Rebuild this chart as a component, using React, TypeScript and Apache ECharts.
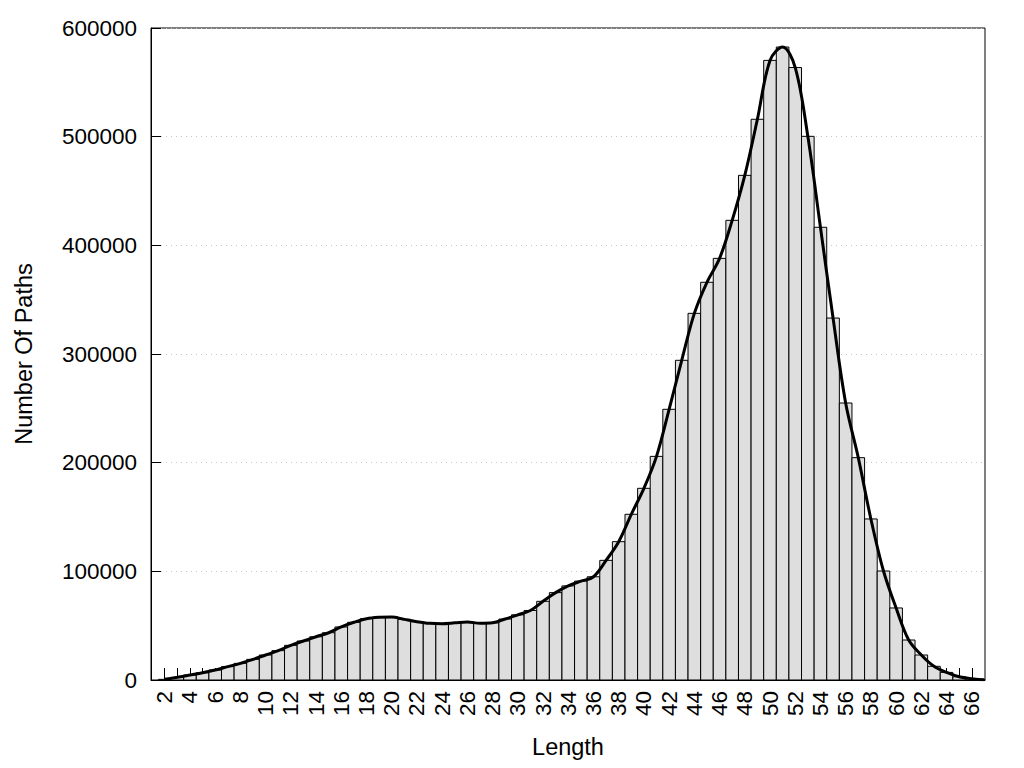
import React, { useEffect, useRef } from "react";
import * as echarts from "echarts";

const lengths = [2, 3, 4, 5, 6, 7, 8, 9, 10, 11, 12, 13, 14, 15, 16, 17, 18, 19, 20, 21, 22, 23, 24, 25, 26, 27, 28, 29, 30, 31, 32, 33, 34, 35, 36, 37, 38, 39, 40, 41, 42, 43, 44, 45, 46, 47, 48, 49, 50, 51, 52, 53, 54, 55, 56, 57, 58, 59, 60, 61, 62, 63, 64, 65, 66, 67];
const pathCounts = [
  600, 2500, 4600, 6700, 9200, 12300, 15300, 19000, 23000, 27000,
  31900, 35900, 39800, 43500, 48800, 53100, 56400, 57700, 58000, 55800,
  53700, 52200, 51800, 52600, 53400, 52200, 52600, 56100, 60000, 64000,
  72400, 80400, 86600, 91000, 95000, 110100, 127300, 152500, 176400, 205800,
  249100, 294200, 337400, 366000, 388000, 423000, 464400, 516000, 570200, 582500,
  563600, 500300, 416600, 333100, 254900, 204600, 148200, 100300, 66300, 36800,
  23000, 12600, 7000, 3000, 1200, 200
];
const xLabelValues = [2, 4, 6, 8, 10, 12, 14, 16, 18, 20, 22, 24, 26, 28, 30, 32, 34, 36, 38, 40, 42, 44, 46, 48, 50, 52, 54, 56, 58, 60, 62, 64, 66];
const xTickValues = lengths.slice(0, 65);
const xName = "Length";
const yName = "Number Of Paths";

export default function App() {
  const ref = useRef<HTMLDivElement>(null);
  useEffect(() => {
    if (!ref.current) return;
    const chart = echarts.init(ref.current, null, { renderer: "svg" });
    const data = lengths.map((x, i) => [x, pathCounts[i]]);
    const font = "'Liberation Sans', Arial, sans-serif";
    chart.setOption({
      animation: false,
      backgroundColor: "#fff",
      textStyle: { fontFamily: font },
      grid: {
        left: 151, right: 39, top: 28, bottom: 88,
        show: true, borderColor: "#000", borderWidth: 1, backgroundColor: "transparent",
      },
      xAxis: {
        type: "value",
        min: 0.91,
        max: 67.05,
        name: xName,
        nameLocation: "middle",
        nameGap: 55,
        nameTextStyle: { fontSize: 23.5, color: "#000", fontFamily: font },
        axisLine: { show: true, lineStyle: { color: "#000", width: 1 } },
        axisTick: { show: true, inside: true, length: 12, customValues: xTickValues, lineStyle: { color: "#000" } },
        axisLabel: {
          customValues: xLabelValues,
          rotate: 90,
          fontSize: 22.5,
          color: "#000",
          margin: 11,
          fontFamily: font,
        },
        splitLine: { show: false },
      },
      yAxis: {
        type: "value",
        min: 0,
        max: 600000,
        interval: 100000,
        name: yName,
        nameLocation: "middle",
        nameGap: 115,
        nameRotate: 90,
        nameTextStyle: { fontSize: 23.5, color: "#000", fontFamily: font },
        axisLine: { show: true, lineStyle: { color: "#000", width: 1 } },
        axisTick: { show: true, inside: true, length: 10, lineStyle: { color: "#000" } },
        axisLabel: {
          fontSize: 22.5, color: "#000", margin: 14, fontFamily: font,
          formatter: (v: number) => String(v),
        },
        splitLine: { show: true, lineStyle: { color: "#c8c8c8", type: [1, 4], width: 1 } },
      },
      series: [
        {
          type: "custom",
          data,
          z: 2,
          renderItem: (params: any, api: any) => {
            const x = api.value(0);
            const y = api.value(1);
            const p0 = api.coord([x - 0.5, y]);
            const p1 = api.coord([x + 0.5, 0]);
            const cs = params.coordSys;
            const rect = echarts.graphic.clipRectByRect(
              { x: p0[0], y: p0[1], width: p1[0] - p0[0], height: p1[1] - p0[1] },
              { x: cs.x, y: cs.y, width: cs.width, height: cs.height }
            );
            if (!rect) return null;
            return {
              type: "rect",
              shape: rect,
              style: { fill: "#dedede", stroke: "#000", lineWidth: 1 },
            };
          },
        },
        {
          type: "line",
          data,
          z: 3,
          smooth: 0.35,
          showSymbol: false,
          clip: true,
          lineStyle: { color: "#000", width: 3 },
        },
      ],
    });
    return () => chart.dispose();
  }, []);
  return (
    <div
      ref={ref}
      style={{ position: "fixed", left: 0, top: 0, width: 1024, height: 768 }}
    />
  );
}
